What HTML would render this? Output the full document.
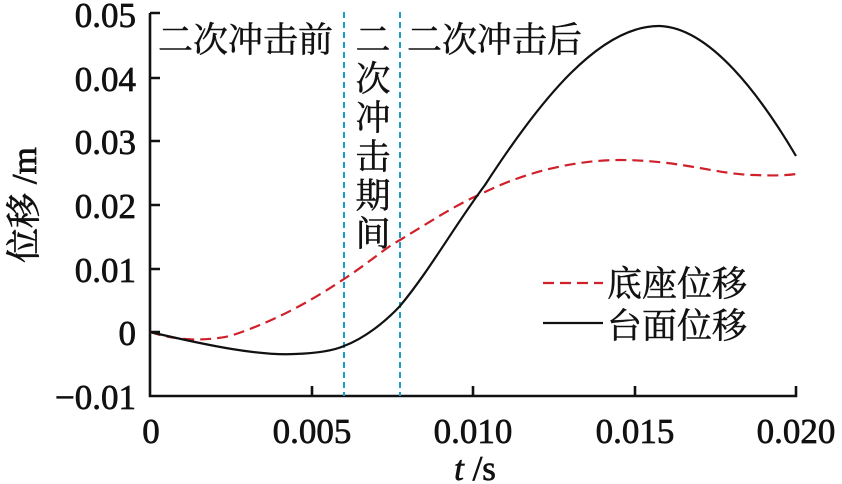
<!DOCTYPE html>
<html><head><meta charset="utf-8"><style>
html,body{margin:0;padding:0;background:#fff}
svg{display:block}
text{font-family:"Liberation Serif","Noto Serif CJK SC",serif;fill:#111}
.n{stroke:#111;stroke-width:0.7}
</style></head><body>
<svg width="842" height="484" viewBox="0 0 842 484" xmlns="http://www.w3.org/2000/svg">
<g stroke="#111" stroke-width="2.6" fill="none">
<path d="M150,13 V396 H796 V386"/>
<path d="M150,13 H160 M150,78 H160 M150,141 H160 M150,205 H160 M150,269 H160 M150,332 H160"/>
<path d="M312,396 V386 M473,396 V386 M635,396 V386"/>
</g>
<g stroke="#1aa0c8" stroke-width="2" stroke-dasharray="6,4">
<line x1="344" y1="12" x2="344" y2="396"/>
<line x1="400" y1="12" x2="400" y2="396"/>
</g>
<path d="M150,332 C175,340 200,342 230,336 C280,320 320,295 344,279 C370,262 385,248 400,240 C430,222 455,205 485,192 C530,170 580,160 620,160 C680,160 720,175 755,175 C775,176 790,175 796,174" fill="none" stroke="#d0202a" stroke-width="2.2" stroke-dasharray="11,6"/>
<path d="M150,332 C210,346 260,356 295,354 C322,353 335,350 344,346 C365,338 385,322 400,306 C430,270 455,225 485,185 C540,100 600,25 660,26 C710,28 760,95 796,156" fill="none" stroke="#111" stroke-width="2.2"/>
<g class="n" font-size="35" text-anchor="end">
<text x="136" y="27">0.05</text>
<text x="136" y="91">0.04</text>
<text x="136" y="154">0.03</text>
<text x="136" y="218">0.02</text>
<text x="136" y="282">0.01</text>
<text x="136" y="345">0</text>
<text x="136" y="409">−0.01</text>
</g>
<g class="n" font-size="35" text-anchor="middle">
<text x="151" y="443">0</text>
<text x="312" y="443">0.005</text>
<text x="473" y="443">0.010</text>
<text x="635" y="443">0.015</text>
<text x="796" y="443">0.020</text>
<text x="475" y="480"><tspan font-style="italic">t</tspan> /s</text>
</g>
<text class="n" transform="translate(36,205) rotate(-90)" font-size="35" text-anchor="middle">位移 /m</text>
<g class="n" font-size="35" style="stroke-width:0.5">
<text x="158" y="52">二次冲击前</text>
<text x="407" y="52">二次冲击后</text>
<g text-anchor="middle">
<text x="373" y="52">二</text>
<text x="373" y="91">次</text>
<text x="373" y="130">冲</text>
<text x="373" y="169">击</text>
<text x="373" y="208">期</text>
<text x="373" y="246">间</text>
</g>
<text x="607" y="296">底座位移</text>
<text x="607" y="338">台面位移</text>
</g>
<line x1="543" y1="283" x2="603" y2="283" stroke="#d0202a" stroke-width="2.2" stroke-dasharray="11,6"/>
<line x1="543" y1="323" x2="603" y2="323" stroke="#111" stroke-width="2.2"/>
</svg>
</body></html>
